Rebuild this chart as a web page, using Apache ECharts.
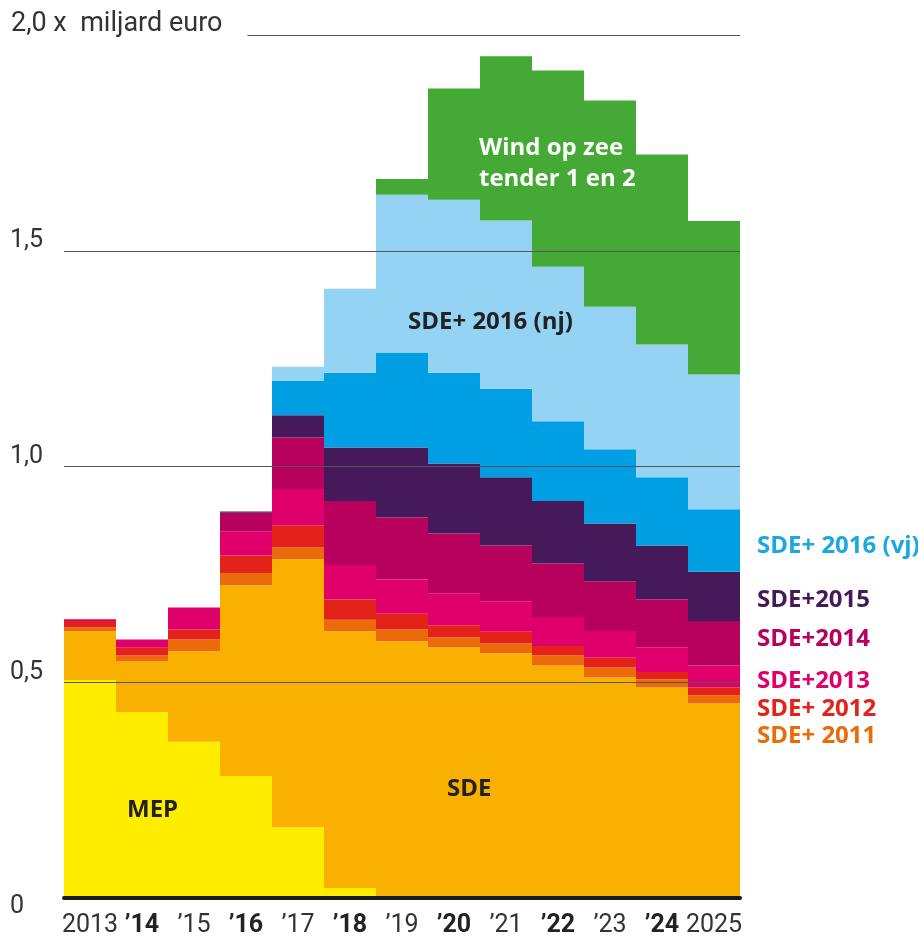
<!DOCTYPE html>
<html>
<head>
<meta charset="utf-8">
<script src="https://cdn.jsdelivr.net/npm/echarts@6/dist/echarts.min.js"></script>
<style>
html,body{margin:0;padding:0;background:#fff;}
#chart{width:918px;height:942px;}
</style>
</head>
<body>
<div id="chart"></div>
<script>
const categories = ['2013','2014','2015','2016','2017','2018','2019','2020','2021','2022','2023','2024','2025'];
const tickLabels = ['2013','\u201914','\u201915','\u201916','\u201917','\u201918','\u201919','\u201920','\u201921','\u201922','\u201923','\u201924','2025'];
const yTickLabels = ['0','0,5','1,0','1,5','2,0'];
const unitTitle = '2,0 x  miljard euro';

const mep       = [0.505, 0.431, 0.362, 0.283, 0.164, 0.023, 0, 0, 0, 0, 0, 0, 0];
const sde       = [0.113, 0.117, 0.210, 0.442, 0.621, 0.595, 0.595, 0.581, 0.567, 0.539, 0.511, 0.488, 0.451];
const sde2011   = [0.009, 0.014, 0.027, 0.028, 0.027, 0.027, 0.027, 0.023, 0.023, 0.023, 0.023, 0.019, 0.019];
const sde2012   = [0.015, 0.018, 0.023, 0.041, 0.052, 0.047, 0.037, 0.028, 0.027, 0.022, 0.023, 0.017, 0.018];
const sde2013   = [0.004, 0.019, 0.051, 0.056, 0.084, 0.080, 0.079, 0.074, 0.071, 0.067, 0.062, 0.057, 0.051];
const sde2014   = [0, 0, 0, 0.043, 0.119, 0.148, 0.144, 0.139, 0.129, 0.124, 0.115, 0.111, 0.103];
const sde2015   = [0, 0, 0, 0.003, 0.052, 0.124, 0.162, 0.162, 0.158, 0.145, 0.134, 0.125, 0.114];
const sde2016vj = [0, 0, 0, 0, 0.079, 0.173, 0.220, 0.210, 0.205, 0.185, 0.172, 0.158, 0.145];
const sde2016nj = [0, 0, 0, 0, 0.033, 0.195, 0.366, 0.401, 0.390, 0.358, 0.330, 0.308, 0.312];
const wind      = [0, 0, 0, 0, 0, 0, 0.036, 0.258, 0.381, 0.455, 0.478, 0.440, 0.356];

const seriesNames = ['MEP','SDE','SDE+ 2011','SDE+ 2012','SDE+2013','SDE+2014','SDE+2015','SDE+ 2016 (vj)','SDE+ 2016 (nj)','Wind op zee tender 1 en 2'];
const seriesData = [mep, sde, sde2011, sde2012, sde2013, sde2014, sde2015, sde2016vj, sde2016nj, wind];
const colors = ['#FFED00','#F9B000','#EB6A0A','#E3221A','#E0006B','#B8005E','#461A5A','#009FE3','#95D3F5','#45AA35'];

const condensed = "'Roboto', 'Liberation Sans Narrow', sans-serif";
const boldFont = "'Open Sans', 'Noto Sans', sans-serif";

const chart = echarts.init(document.getElementById('chart'), null, {renderer: 'canvas'});

const series = seriesData.map((d, i) => ({
  name: seriesNames[i],
  type: 'bar',
  stack: 'total',
  data: d,
  barWidth: '100%',
  barCategoryGap: '0%',
  itemStyle: { color: colors[i] },
  emphasis: { disabled: true },
  z: 2
}));

const annot = (text, left, top, color, lineHeight) => ({
  type: 'text', left: left, top: top, z: 100,
  style: { text: text, fill: color, font: 'bold 24px ' + boldFont, lineHeight: lineHeight || 30 }
});

const option = {
  animation: false,
  grid: { left: 64, right: 178, top: 35, bottom: 44, containLabel: false },
  xAxis: {
    type: 'category',
    data: categories,
    z: 6,
    axisLine: { show: true, lineStyle: { color: '#1a1a1a', width: 4 } },
    axisTick: { show: false },
    axisLabel: {
      interval: 0,
      margin: 15,
      fontFamily: condensed,
      fontSize: 25,
      color: '#333',
      formatter: (v, idx) => (idx % 2 === 1 ? '{b|' : '{n|') + tickLabels[idx] + '}',
      rich: {
        n: { fontFamily: condensed, fontSize: 25, color: '#333' },
        b: { fontFamily: condensed, fontSize: 25, color: '#222', fontWeight: 'bold' }
      }
    }
  },
  yAxis: {
    type: 'value',
    min: 0, max: 2, interval: 0.5,
    z: 5,
    axisLine: { show: false },
    axisTick: { show: false },
    splitLine: { show: true, lineStyle: { color: '#555', width: 1 } },
    axisLabel: {
      align: 'left',
      margin: 54,
      fontFamily: condensed,
      fontSize: 25,
      color: '#333',
      formatter: (v) => {
        const idx = Math.round(v / 0.5);
        if (idx === 4) return '';
        if (idx === 0) return '{dn|' + yTickLabels[idx] + '}';
        return '{up|' + yTickLabels[idx] + '}';
      },
      rich: {
        up: { fontFamily: condensed, fontSize: 25, color: '#333', padding: [0, 0, 20, 0] },
        dn: { fontFamily: condensed, fontSize: 25, color: '#333', padding: [18, 0, 0, 0] }
      }
    }
  },
  series: series,
  graphic: [
    { type: 'text', left: 11, top: 9, z: 100,
      style: { text: unitTitle, fill: '#333', font: '27px ' + condensed, backgroundColor: '#fff', padding: [2, 25, 4, 0] } },
    annot('MEP', 127, 795, '#222'),
    annot('SDE', 447, 774, '#222'),
    annot('SDE+ 2016 (nj)', 408, 307, '#222'),
    annot('Wind op zee\ntender 1 en 2', 479, 133, '#fff', 31),
    annot('SDE+ 2016 (vj)', 757, 531, '#1BA8E2'),
    annot('SDE+2015', 757, 585, '#461A5A'),
    annot('SDE+2014', 757, 624, '#B8005E'),
    annot('SDE+2013', 757, 666, '#E0006B'),
    annot('SDE+ 2012', 757, 694, '#E3221A'),
    annot('SDE+ 2011', 757, 721, '#EB6A0A')
  ]
};

chart.setOption(option);
</script>
</body>
</html>
